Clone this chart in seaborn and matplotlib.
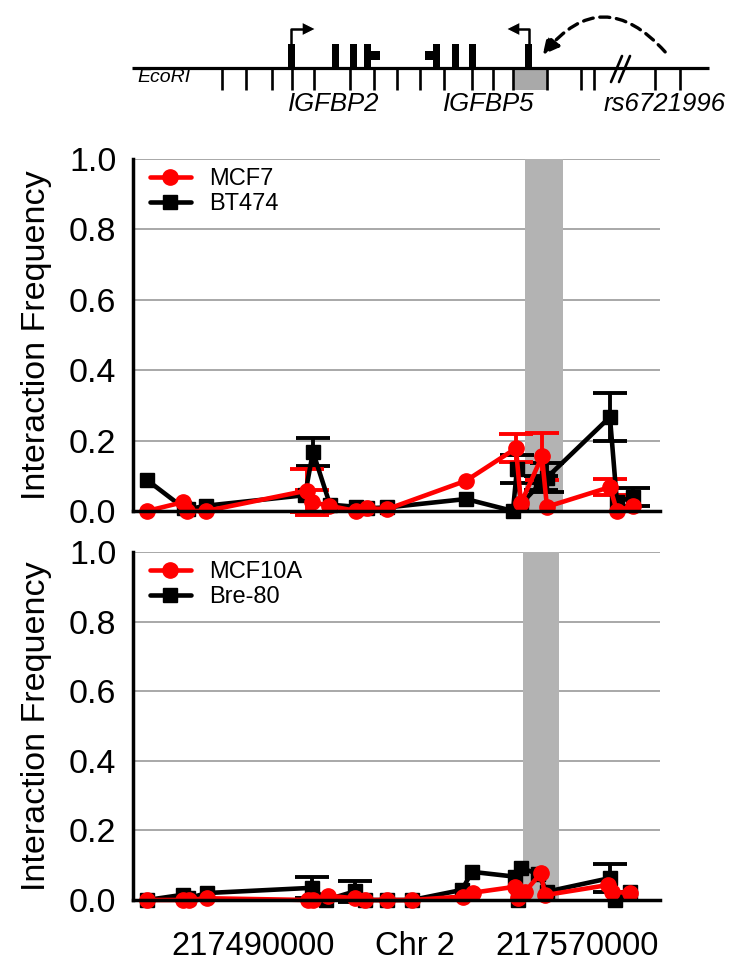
import numpy as np
import pandas as pd
import matplotlib
matplotlib.use('Agg')
import matplotlib.pyplot as plt
import seaborn as sns
from matplotlib.patches import Rectangle, FancyArrowPatch, Polygon

# ---- data: fragment positions (bp on chr2) and interaction frequencies ----
bt474_pos = [217463830, 217472960, 217473950, 217478400, 217502840, 217504810, 217509010,
             217515430, 217518150, 217523080, 217542590, 217554190, 217555180, 217556170,
             217561110, 217562590, 217578140, 217579870, 217583820]
bt474_val = [0.088, 0.008, 0.005, 0.015, 0.045, 0.168, 0.018, 0.012, 0.008, 0.010, 0.034,
             0.0, 0.12, 0.02, 0.08, 0.095, 0.267, 0.025, 0.04]
bt474_err = [0, 0, 0, 0, 0, 0.04, 0, 0, 0, 0, 0, 0, 0.04, 0, 0.02, 0.04, 0.067, 0, 0.025]

mcf7_pos = [217463830, 217472720, 217473700, 217478400, 217503330, 217504570, 217508760,
            217515430, 217518150, 217523080, 217542590, 217554930, 217556170, 217561350,
            217562590, 217578140, 217579870, 217583820]
mcf7_val = [0.0, 0.025, 0.0, 0.0, 0.058, 0.025, 0.015, 0.0, 0.008, 0.005, 0.086, 0.178,
            0.022, 0.155, 0.012, 0.068, 0.0, 0.015]
mcf7_err = [0, 0, 0, 0, 0.06, 0.035, 0, 0, 0, 0, 0, 0.04, 0, 0.068, 0, 0.022, 0, 0]

bre80_pos = [217463830, 217472720, 217473950, 217478640, 217504570, 217508020, 217515180,
             217517650, 217523080, 217529260, 217541600, 217544070, 217554690, 217555430,
             217556170, 217560370, 217562590, 217578140, 217579380, 217583080]
bre80_val = [0.0, 0.015, 0.005, 0.02, 0.035, 0.0, 0.025, 0.0, 0.0, 0.0, 0.029, 0.081,
             0.067, 0.0, 0.092, 0.075, 0.024, 0.063, 0.0, 0.024]
bre80_err = [0, 0, 0, 0, 0.03, 0, 0.03, 0, 0, 0, 0, 0, 0, 0, 0, 0, 0, 0.04, 0, 0]

mcf10a_pos = [217463830, 217472720, 217474200, 217478640, 217503580, 217504810, 217508520,
              217515180, 217517650, 217523080, 217529260, 217541850, 217544320, 217554690,
              217555430, 217557160, 217561110, 217562100, 217577650, 217578640, 217583080]
mcf10a_val = [0.0, 0.0, 0.0, 0.005, 0.0, 0.0, 0.012, 0.005, 0.0, 0.0, 0.0, 0.01, 0.021,
              0.038, 0.005, 0.024, 0.077, 0.014, 0.043, 0.024, 0.02]
mcf10a_err = [0] * 21

top_band = (217557160, 217566540)
bottom_band = (217556660, 217565550)
x_ticks = [217490000, 217530000, 217570000]
x_ticklabels = ['217490000', 'Chr 2', '217570000']
y_ticks = [0.0, 0.2, 0.4, 0.6, 0.8, 1.0]

# schematic (pixel positions of the figure)
ecori_sites = [222, 246, 272, 292, 314, 350, 374, 397, 420, 444, 472, 493, 513, 547, 581, 594, 655, 680]
igfbp2_exons = [336, 354, 368]
igfbp5_exons = [437, 456, 473]

sns.set_style('white')
plt.rcParams['font.family'] = ['Liberation Sans', 'DejaVu Sans']
plt.rcParams['text.color'] = 'black'
plt.rcParams['axes.labelcolor'] = 'black'
plt.rcParams['xtick.color'] = 'black'
plt.rcParams['ytick.color'] = 'black'

fig = plt.figure(figsize=(7.29, 9.68), dpi=100)

RED = '#ff0000'
BLACK = '#000000'


def draw_series(ax, pos, val, err, color, marker, ms, label):
    df = pd.DataFrame({'pos': pos, 'val': val, 'err': err})
    sub = df[df['err'] > 0]
    ax.errorbar(sub['pos'], sub['val'], yerr=sub['err'], fmt='none', ecolor=color,
                elinewidth=2.8, capsize=12, capthick=2.8, clip_on=False, zorder=3)
    sns.lineplot(data=df, x='pos', y='val', ax=ax, color=color, marker=marker,
                 markersize=ms, markeredgecolor=color, markeredgewidth=1, linewidth=3.3,
                 estimator=None, sort=False, clip_on=False, zorder=4, label=label,
                 legend=False)


def style_axes(ax, band, show_labels):
    ax.axvspan(band[0], band[1], color='#b3b3b3', lw=0, zorder=1)
    ax.set_xlim(217460370, 217590500)
    ax.set_ylim(0, 1.0)
    ax.set_yticks(y_ticks)
    ax.set_yticklabels(['%.1f' % v for v in y_ticks])
    ax.set_xticks(x_ticks)
    if show_labels:
        ax.set_xticklabels(x_ticklabels)
    else:
        ax.set_xticklabels([])
    ax.yaxis.grid(True, color='#9a9a9a', lw=1.2)
    ax.xaxis.grid(False)
    ax.set_axisbelow(True)
    for s in ['top', 'right']:
        ax.spines[s].set_visible(False)
    for s in ['left', 'bottom']:
        ax.spines[s].set_linewidth(2.5)
        ax.spines[s].set_color('black')
        ax.spines[s].set_zorder(5)
    ax.tick_params(axis='y', which='major', direction='out', length=6, width=2.3,
                   labelsize=24.5, pad=6, color='black', labelcolor='black')
    ax.tick_params(axis='x', which='major', direction='out', length=8, width=2.3,
                   labelsize=23.5, pad=14, color='black', labelcolor='black')
    ax.set_xlabel('')
    ax.set_ylabel('Interaction Frequency', fontsize=24.5, labelpad=12, color='black')


ax1 = fig.add_axes([0.18244, 0.47211, 0.72291, 0.36364])
draw_series(ax1, bt474_pos, bt474_val, bt474_err, BLACK, 's', 10, 'BT474')
draw_series(ax1, mcf7_pos, mcf7_val, mcf7_err, RED, 'o', 11, 'MCF7')
style_axes(ax1, top_band, False)

ax2 = fig.add_axes([0.18244, 0.070248, 0.72291, 0.35950])
draw_series(ax2, bre80_pos, bre80_val, bre80_err, BLACK, 's', 10, 'Bre-80')
draw_series(ax2, mcf10a_pos, mcf10a_val, mcf10a_err, RED, 'o', 11, 'MCF10A')
style_axes(ax2, bottom_band, True)

for ax in (ax1, ax2):
    h, l = ax.get_legend_handles_labels()
    leg = ax.legend(h[::-1], l[::-1], loc='upper left', bbox_to_anchor=(0.014, 1.0),
                    frameon=False, fontsize=17, handlelength=1.75, handletextpad=0.75,
                    labelspacing=0.1, borderaxespad=0)
    for t in leg.get_texts():
        t.set_color('black')

# ---- gene schematic on top ----
axd = fig.add_axes([0, 1 - 125 / 968, 1, 125 / 968])
axd.set_xlim(0, 729)
axd.set_ylim(125, 0)
axd.axis('off')
line_y = 68
axd.plot([132, 709], [line_y, line_y], color='black', lw=2.3, solid_capstyle='butt')
axd.add_patch(Rectangle((513, line_y), 34, 22, facecolor='#a9a9a9', edgecolor='none'))
for x in ecori_sites:
    axd.plot([x, x], [line_y, 90], color='black', lw=1.9, solid_capstyle='butt')
for x in igfbp2_exons + igfbp5_exons:
    axd.add_patch(Rectangle((x - 3.5, 44), 7, 24, facecolor='black', edgecolor='none'))
axd.add_patch(Rectangle((371, 51), 9, 9, facecolor='black', edgecolor='none'))
axd.add_patch(Rectangle((425, 51), 9, 9, facecolor='black', edgecolor='none'))

# promoters
axd.add_patch(Rectangle((288, 44), 7, 24, facecolor='black', edgecolor='none'))
axd.plot([291.5, 291.5, 304], [44, 29, 29], color='black', lw=1.8)
axd.add_patch(Polygon([[302, 22], [302, 36], [316, 29]], closed=True, facecolor='black'))
axd.add_patch(Rectangle((525.5, 44), 7, 24, facecolor='black', edgecolor='none'))
axd.plot([529, 529, 518], [44, 29, 29], color='black', lw=1.8)
axd.add_patch(Polygon([[520, 22], [520, 36], [506, 29]], closed=True, facecolor='black'))

# looping arrow
arc = FancyArrowPatch((667, 54), (541, 57), connectionstyle='arc3,rad=0.6',
                      arrowstyle='-|>', mutation_scale=24, lw=2.4, linestyle=(0, (3, 2)),
                      color='black')
axd.add_patch(arc)

# break marks
axd.plot([611, 622], [82, 56], color='black', lw=1.9)
axd.plot([619, 630], [82, 56], color='black', lw=1.9)

axd.text(137, 78, 'EcoRI', fontsize=14, style='italic', ha='left', va='center')
axd.text(334, 104, 'IGFBP2', fontsize=18.5, style='italic', ha='center', va='center')
axd.text(489, 104, 'IGFBP5', fontsize=18.5, style='italic', ha='center', va='center')
axd.text(665, 104, 'rs6721996', fontsize=18.5, style='italic', ha='center', va='center')

fig.savefig('out.png', dpi=100, facecolor='white')
